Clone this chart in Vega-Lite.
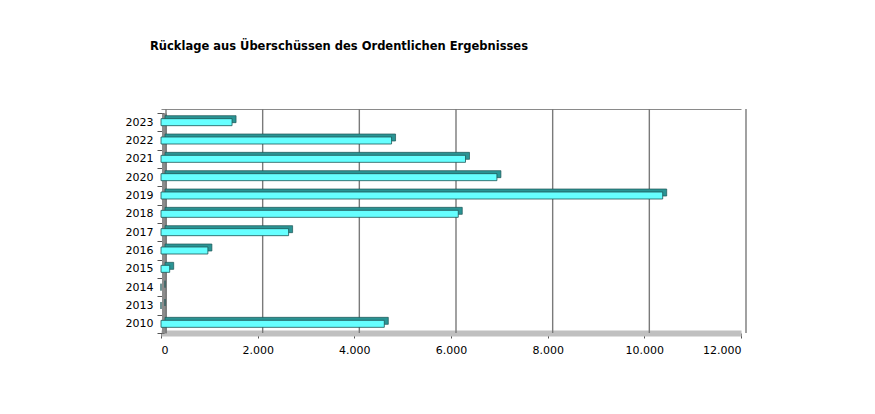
{
  "$schema": "https://vega.github.io/schema/vega-lite/v6.json",
  "width": 580,
  "height": 220,
  "autosize": "none",
  "padding": {"left": 161, "top": 113, "right": 134, "bottom": 81},
  "background": "white",
  "config": {
    "locale": {"number": {"decimal": ",", "thousands": ".", "grouping": [3], "currency": ["", " €"]}},
    "view": {"stroke": null},
    "font": "DejaVu Sans"
  },
  "title": {
    "text": "Rücklage aus Überschüssen des Ordentlichen Ergebnisses",
    "anchor": "start",
    "frame": "group",
    "dx": -11,
    "offset": 55,
    "fontSize": 11.5,
    "fontWeight": "bold",
    "font": "DejaVu Sans",
    "color": "#000000"
  },
  "datasets": {
    "werte": [
      {"Jahr": "2010", "Betrag": 4620},
      {"Jahr": "2013", "Betrag": 0},
      {"Jahr": "2014", "Betrag": 0},
      {"Jahr": "2015", "Betrag": 180},
      {"Jahr": "2016", "Betrag": 970},
      {"Jahr": "2017", "Betrag": 2640},
      {"Jahr": "2018", "Betrag": 6150},
      {"Jahr": "2019", "Betrag": 10380},
      {"Jahr": "2020", "Betrag": 6950},
      {"Jahr": "2021", "Betrag": 6300},
      {"Jahr": "2022", "Betrag": 4770},
      {"Jahr": "2023", "Betrag": 1470}
    ],
    "raster": [
      {"Wert": 0}, {"Wert": 2000}, {"Wert": 4000}, {"Wert": 6000},
      {"Wert": 8000}, {"Wert": 10000}, {"Wert": 12000}
    ]
  },
  "resolve": {"axis": {"x": "independent"}},
  "layer": [
    {
      "data": {"name": "raster"},
      "mark": {"type": "rule", "color": "#7a7a7a", "strokeWidth": 1.4, "xOffset": 5, "yOffset": -4},
      "encoding": {
        "x": {
          "field": "Wert",
          "type": "quantitative",
          "scale": {"domain": [0, 12000]},
          "axis": {"orient": "top", "title": null, "labels": false, "ticks": false, "grid": false, "domain": true, "domainColor": "#8a8a8a", "domainWidth": 1.2, "offset": 4}
        }
      }
    },
    {
      "data": {"name": "werte"},
      "mark": {"type": "bar", "size": 7, "color": "#2a9494", "stroke": "#1d5656", "strokeWidth": 0.7, "xOffset": 4, "yOffset": -3},
      "encoding": {
        "y": {
          "field": "Jahr",
          "type": "nominal",
          "sort": "descending",
          "scale": {"paddingInner": 0, "paddingOuter": 0},
          "axis": {"title": null, "tickBand": "extent", "domainColor": "#8c8c8c", "domainWidth": 5, "offset": -3, "tickSize": 7, "tickColor": "#555555", "labelPadding": 4, "labelFontSize": 11, "labelColor": "#000000", "labelFont": "DejaVu Sans"}
        },
        "x": {"field": "Betrag", "type": "quantitative", "axis": null}
      }
    },
    {
      "data": {"name": "werte"},
      "mark": {"type": "bar", "size": 7, "color": "#66ffff", "stroke": "#1d5656", "strokeWidth": 0.8},
      "encoding": {
        "y": {
          "field": "Jahr",
          "type": "nominal",
          "sort": "descending",
          "scale": {"paddingInner": 0, "paddingOuter": 0},
          "axis": {"title": null, "tickBand": "extent", "domainColor": "#8c8c8c", "domainWidth": 5, "offset": -3, "tickSize": 7, "tickColor": "#555555", "labelPadding": 4, "labelFontSize": 11, "labelColor": "#000000", "labelFont": "DejaVu Sans"}
        },
        "x": {
          "field": "Betrag",
          "type": "quantitative",
          "scale": {"domain": [0, 12000]},
          "axis": {"orient": "bottom", "title": null, "values": [0, 2000, 4000, 6000, 8000, 10000, 12000], "format": ",.0f", "grid": false, "domainColor": "#c0c0c0", "domainWidth": 6, "tickSize": 5, "tickColor": "#555555", "labelPadding": 6, "labelFontSize": 11, "labelColor": "#000000", "labelFont": "DejaVu Sans"}
        }
      }
    }
  ]
}
